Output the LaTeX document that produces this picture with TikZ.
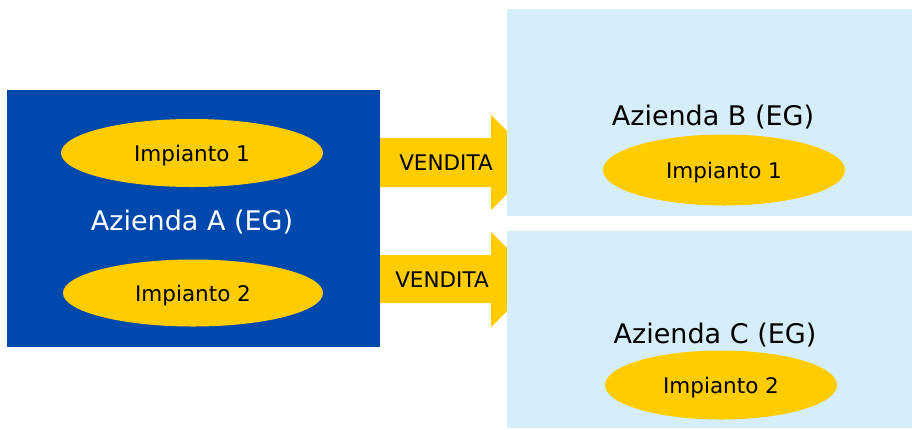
\documentclass[tikz,border=0pt]{standalone}
\usepackage{fontspec}
\setmainfont{DejaVu Sans}
\usetikzlibrary{shapes.geometric}
\definecolor{darkblue}{RGB}{0,72,171}
\definecolor{lightblue}{RGB}{214,238,250}
\definecolor{gold}{RGB}{255,204,0}
\begin{document}
\begin{tikzpicture}[x=1pt,y=-1pt,
  company/.style={draw=none,inner sep=0pt,anchor=north west},
  plant/.style={ellipse,fill=gold,draw=none,inner sep=0pt,text depth=0pt,font=\fontsize{21.5}{25}\selectfont,text=black},
  title/.style={font=\fontsize{27}{31}\selectfont,inner sep=0pt,text depth=0pt},
  arrowfill/.style={fill=gold,draw=none},
  arrowlabel/.style={font=\fontsize{21.5}{25}\selectfont,inner sep=0pt,text=black}]
\useasboundingbox (0,0) rectangle (912,429);
\fill[white] (0,0) rectangle (912,429);
% Company A
\node[company,fill=darkblue,minimum width=373pt,minimum height=257pt] (A) at (7,90) {};
\node[plant,minimum width=262pt,minimum height=68pt] (A1) at (192,153) {Impianto 1};
\node[plant,minimum width=260pt,minimum height=67pt] (A2) at (193,293) {Impianto 2};
\node[title,text=white] (At) at (192,220) {Azienda A (EG)};
% Arrows
\fill[arrowfill] (380,138) -- (491,138) -- (491,115) -- (538.5,162.5) -- (491,210) -- (491,187) -- (380,187) -- cycle;
\fill[arrowfill] (380,255) -- (491,255) -- (491,232) -- (538.5,279.5) -- (491,327) -- (491,303) -- (380,303) -- cycle;
\node[arrowlabel] (v1) at (446,163) {VENDITA};
\node[arrowlabel] (v2) at (442,280) {VENDITA};
% Company B
\node[company,fill=lightblue,minimum width=405pt,minimum height=207pt] (B) at (507,9) {};
\node[title,text=black] (Bt) at (713,115) {Azienda B (EG)};
\node[plant,minimum width=242pt,minimum height=71pt] (B1) at (724,170) {Impianto 1};
% Company C
\node[company,fill=lightblue,minimum width=405pt,minimum height=197pt] (C) at (507,231) {};
\node[title,text=black] (Ct) at (715,333) {Azienda C (EG)};
\node[plant,minimum width=232pt,minimum height=69pt] (C1) at (721,385) {Impianto 2};
\end{tikzpicture}
\end{document}
